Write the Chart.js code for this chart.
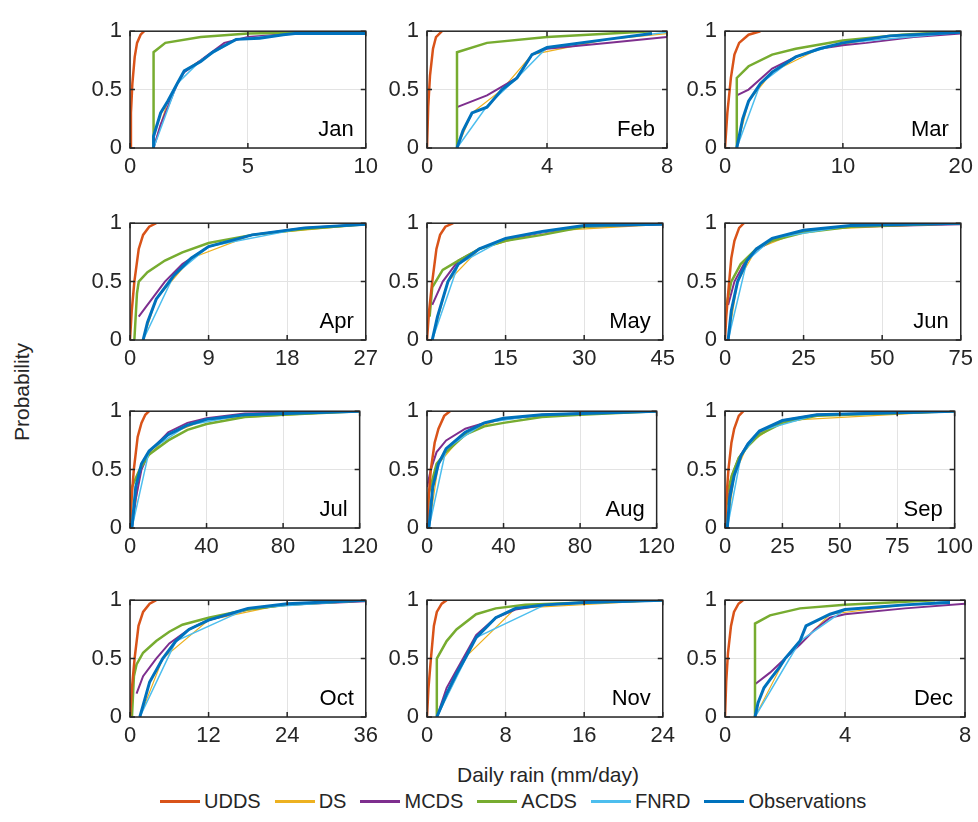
<!DOCTYPE html>
<html>
<head>
<meta charset="utf-8">
<script src="https://cdn.jsdelivr.net/npm/chart.js@4"></script>
<style>
body { margin: 0; background: #fff; font-family: "Liberation Sans", Arial, sans-serif; }
#wrap { position: relative; width: 978px; height: 822px; }
.pan { position: absolute; }
#ylab { position: absolute; left: 22px; top: 392px; transform: translate(-50%, -50%) rotate(-90deg); font-size: 21px; color: #262626; }
#xlab { position: absolute; left: 548px; top: 775px; transform: translate(-50%, -50%); font-size: 21px; color: #262626; }
#legend { position: absolute; left: 160px; top: 790px; font-size: 20px; color: #262626; display: flex; white-space: nowrap; }
#legend span { display: inline-flex; align-items: center; margin-right: 14px; }
#legend i { display: inline-block; width: 40px; height: 3px; margin-right: 4px; }
</style>
</head>
<body>
<div id="wrap">
  <div id="ylab">Probability</div>
  <div id="xlab">Daily rain (mm/day)</div>
  <div id="legend"></div>
</div>
<script>
const months = ['Jan', 'Feb', 'Mar', 'Apr', 'May', 'Jun', 'Jul', 'Aug', 'Sep', 'Oct', 'Nov', 'Dec'];
const xTicks = [
    [0, 5, 10], [0, 4, 8], [0, 10, 20],
    [0, 9, 18, 27], [0, 15, 30, 45], [0, 25, 50, 75],
    [0, 40, 80, 120], [0, 40, 80, 120], [0, 25, 50, 75, 100],
    [0, 12, 24, 36], [0, 8, 16, 24], [0, 4, 8]
];
const yTicks = [0, 0.5, 1];
const seriesNames = ['UDDS', 'DS', 'MCDS', 'ACDS', 'FNRD', 'Observations'];
const seriesColors = ['#D95319', '#EDB120', '#7E2F8E', '#77AC30', '#4DBEEE', '#0072BD'];

// [x, probability] pairs per month
const udds = [
    [[0,0],[0.04,0.3],[0.1,0.55],[0.2,0.78],[0.3,0.9],[0.45,0.97],[0.6,1]],
    [[0,0],[0.04,0.35],[0.1,0.62],[0.2,0.85],[0.3,0.95],[0.5,1]],
    [[0,0],[0.2,0.3],[0.5,0.6],[0.8,0.8],[1.2,0.9],[2,0.97],[3,1]],
    [[0,0],[0.2,0.25],[0.5,0.5],[1,0.78],[1.5,0.9],[2.2,0.97],[3,1]],
    [[0,0],[0.4,0.25],[1,0.5],[1.8,0.78],[2.5,0.9],[3.5,0.97],[5,1]],
    [[0,0],[0.4,0.2],[1,0.4],[2,0.7],[3,0.85],[4.5,0.96],[6,1]],
    [[0,0],[0.8,0.25],[2,0.5],[4,0.78],[6,0.9],[8,0.97],[10,1]],
    [[0,0],[0.8,0.25],[2,0.5],[4,0.73],[6,0.85],[9,0.96],[12,1]],
    [[0,0],[0.6,0.25],[1.5,0.5],[2.8,0.73],[4,0.85],[6,0.96],[8,1]],
    [[0,0],[0.3,0.25],[0.7,0.5],[1.3,0.78],[2,0.9],[3,0.97],[4,1]],
    [[0,0],[0.15,0.25],[0.4,0.5],[0.7,0.78],[1,0.9],[1.5,0.97],[2,1]],
    [[0,0],[0.04,0.3],[0.1,0.55],[0.2,0.78],[0.3,0.9],[0.45,0.97],[0.6,1]]
];
const ds = [
    [[1,0],[1.6,0.4],[2.3,0.66],[3.5,0.82],[4.5,0.93],[7,0.98],[10,0.99]],
    [[1,0],[1.5,0.3],[2.5,0.5],[3.5,0.8],[6,0.93],[8,0.98]],
    [[1,0],[2,0.4],[4,0.65],[8,0.85],[14,0.96],[20,0.99]],
    [[1.5,0],[3,0.35],[7,0.7],[14,0.9],[27,0.99]],
    [[1,0],[4,0.5],[10,0.78],[22,0.93],[45,0.99]],
    [[1,0],[4,0.5],[10,0.78],[25,0.94],[75,1]],
    [[1,0],[6,0.55],[20,0.8],[40,0.93],[120,1]],
    [[1,0],[6,0.55],[20,0.82],[40,0.94],[120,1]],
    [[1,0],[4,0.45],[10,0.72],[25,0.92],[100,1]],
    [[1.5,0],[5,0.5],[12,0.83],[24,0.97],[36,1]],
    [[1,0],[4,0.52],[9,0.93],[24,1]],
    [[1,0],[2,0.5],[3.5,0.88],[6,0.96],[7.5,0.99]]
];
const mcds = [
    [[1,0],[1.3,0.2],[2,0.55],[2.3,0.65],[3,0.75],[4,0.9],[5,0.95],[7,0.98],[10,0.99]],
    [[1,0.35],[2,0.45],[3,0.6],[3.5,0.8],[4,0.85],[6,0.9],[8,0.95]],
    [[1,0.45],[2,0.5],[4,0.68],[6,0.78],[8,0.85],[10,0.88],[12,0.9],[16,0.95],[20,0.98]],
    [[1,0.2],[2,0.3],[4,0.5],[6,0.65],[9,0.8],[14,0.9],[20,0.96],[27,0.99]],
    [[1,0.3],[3,0.5],[6,0.68],[10,0.78],[15,0.86],[22,0.92],[30,0.97],[45,0.99]],
    [[1,0.3],[3,0.5],[6,0.65],[10,0.77],[15,0.85],[25,0.94],[40,0.97],[75,0.99]],
    [[1,0],[3,0.25],[6,0.5],[10,0.65],[20,0.82],[30,0.9],[40,0.94],[60,0.98],[120,1]],
    [[0,0.35],[2,0.5],[5,0.65],[10,0.75],[20,0.85],[30,0.9],[40,0.93],[60,0.97],[120,1]],
    [[1,0.2],[3,0.45],[6,0.6],[10,0.72],[15,0.82],[25,0.92],[40,0.97],[100,1]],
    [[1,0.2],[2,0.35],[4,0.5],[6,0.63],[9,0.75],[12,0.83],[18,0.92],[24,0.96],[36,0.99]],
    [[1,0],[2,0.25],[3,0.4],[4,0.55],[5,0.7],[7,0.85],[9,0.92],[12,0.96],[16,0.98],[24,1]],
    [[1,0.28],[1.5,0.38],[2,0.5],[2.5,0.62],[3,0.75],[3.5,0.85],[4,0.88],[6,0.93],[8,0.97]]
];
const acds = [
    [[1,0],[1,0.82],[1.5,0.9],[3,0.95],[5,0.98],[10,1]],
    [[1,0],[1,0.82],[2,0.9],[4,0.95],[7.5,1]],
    [[1,0],[1,0.6],[2,0.7],[4,0.8],[6,0.85],[10,0.92],[15,0.97],[20,1]],
    [[0.5,0],[0.8,0.4],[1,0.5],[2,0.58],[4,0.68],[6,0.75],[9,0.83],[14,0.9],[20,0.95],[27,0.99]],
    [[0.5,0.2],[1,0.45],[3,0.6],[6,0.68],[10,0.78],[15,0.85],[22,0.9],[30,0.97],[45,1]],
    [[0.5,0.3],[2,0.5],[5,0.65],[10,0.78],[15,0.85],[25,0.92],[40,0.97],[75,1]],
    [[0,0],[1,0.35],[5,0.5],[10,0.63],[20,0.75],[30,0.84],[40,0.89],[60,0.95],[80,0.97],[120,1]],
    [[0,0],[1,0.3],[5,0.55],[10,0.65],[20,0.8],[30,0.87],[40,0.9],[60,0.95],[80,0.97],[120,1]],
    [[0,0],[1,0.3],[3,0.45],[6,0.6],[10,0.7],[15,0.8],[25,0.9],[40,0.96],[100,1]],
    [[0.3,0],[0.6,0.35],[1,0.45],[2,0.55],[4,0.65],[6,0.73],[8,0.79],[12,0.85],[18,0.92],[24,0.96],[36,1]],
    [[1,0],[1,0.5],[2,0.65],[3,0.75],[5,0.88],[7,0.93],[10,0.96],[16,0.98],[24,1]],
    [[1,0],[1,0.8],[1.5,0.87],[2.5,0.93],[4,0.96],[7,1]]
];
const fnrd = [
    [[1,0],[2,0.55],[3,0.75],[4.5,0.93],[7,0.98],[10,1]],
    [[1,0],[2,0.36],[3,0.6],[4,0.86],[6,0.93],[8,0.99]],
    [[1,0],[3,0.55],[6,0.78],[10,0.9],[20,0.99]],
    [[1.5,0],[5,0.55],[9,0.8],[20,0.96],[27,0.99]],
    [[1,0],[6,0.65],[15,0.87],[30,0.98],[45,0.99]],
    [[1,0],[7,0.68],[15,0.87],[40,0.98],[75,1]],
    [[1,0],[10,0.66],[30,0.88],[60,0.97],[120,1]],
    [[1,0],[10,0.68],[30,0.9],[60,0.97],[120,1]],
    [[1,0],[7,0.62],[15,0.83],[40,0.97],[100,1]],
    [[1.5,0],[7,0.65],[18,0.93],[36,1]],
    [[1,0],[5,0.68],[12,0.96],[24,1]],
    [[1,0],[2.5,0.65],[4,0.92],[7.5,0.99]]
];
const obs = [
    [[1,0],[1,0.1],[1.3,0.3],[1.6,0.4],[2,0.55],[2.3,0.66],[3,0.74],[3.5,0.82],[4.5,0.93],[5.5,0.94],[6.5,0.97],[7,0.98],[10,0.98]],
    [[1,0],[1.2,0.15],[1.5,0.3],[2,0.35],[2.5,0.5],[3,0.6],[3.5,0.8],[4,0.86],[6,0.93],[7.5,0.98]],
    [[1,0],[1.5,0.25],[2,0.4],[3,0.55],[4,0.65],[6,0.78],[8,0.85],[10,0.9],[14,0.96],[20,0.99]],
    [[1.5,0],[2,0.15],[3,0.35],[5,0.55],[7,0.7],[9,0.8],[14,0.9],[20,0.96],[27,0.99]],
    [[1,0],[2,0.2],[4,0.5],[6,0.65],[10,0.78],[15,0.87],[22,0.93],[30,0.98],[45,0.99]],
    [[1,0],[2,0.25],[4,0.5],[7,0.68],[10,0.78],[15,0.87],[25,0.94],[40,0.98],[75,1]],
    [[1,0],[3,0.35],[6,0.55],[10,0.66],[20,0.8],[30,0.88],[40,0.93],[60,0.97],[120,1]],
    [[1,0],[3,0.35],[6,0.55],[10,0.68],[20,0.82],[30,0.9],[40,0.94],[60,0.97],[120,1]],
    [[1,0],[2,0.25],[4,0.45],[7,0.62],[10,0.72],[15,0.83],[25,0.92],[40,0.97],[100,1]],
    [[1.5,0],[2,0.1],[3,0.3],[5,0.5],[7,0.65],[9,0.75],[12,0.83],[18,0.93],[24,0.97],[36,1]],
    [[1,0],[2,0.2],[3,0.37],[4,0.52],[5,0.68],[7,0.85],[9,0.93],[12,0.96],[16,0.98],[24,1]],
    [[1,0],[1.1,0.12],[1.3,0.25],[1.5,0.32],[1.8,0.42],[2,0.5],[2.5,0.65],[2.7,0.78],[3.5,0.88],[4,0.92],[6,0.96],[7.5,0.98]]
];
const allSeries = [udds, ds, mcds, acds, fnrd, obs];
const lineWidths = [2.5, 1.2, 2, 2.5, 1.5, 3];
const drawOrder = [3, 6, 5, 4, 2, 1];

const colLeft = [130, 427, 725];
const rowTop = [18, 210, 398, 587];
const plotW = 240, plotH = 130;
const padL = 50, padT = 8, padR = 14, padB = 40;
const tickFont = { family: '"Liberation Sans", Arial, sans-serif', size: 22 };

const boxPlugin = {
    id: 'box',
    afterDatasetsDraw(chart, args, opts) {
        const ctx = chart.ctx, a = chart.chartArea;
        ctx.save();
        ctx.strokeStyle = '#262626';
        ctx.lineWidth = 1.5;
        ctx.strokeRect(a.left, a.top, a.right - a.left, a.bottom - a.top);
        const xs = chart.scales.x, ys = chart.scales.y;
        ctx.beginPath();
        xs.ticks.forEach(t => {
            const px = xs.getPixelForValue(t.value);
            ctx.moveTo(px, a.bottom); ctx.lineTo(px, a.bottom - 5);
            ctx.moveTo(px, a.top); ctx.lineTo(px, a.top + 5);
        });
        ys.ticks.forEach(t => {
            const py = ys.getPixelForValue(t.value);
            ctx.moveTo(a.left, py); ctx.lineTo(a.left + 5, py);
            ctx.moveTo(a.right, py); ctx.lineTo(a.right - 5, py);
        });
        ctx.stroke();
        ctx.fillStyle = '#000';
        ctx.font = '22px "Liberation Sans", Arial, sans-serif';
        ctx.textAlign = 'right';
        ctx.textBaseline = 'alphabetic';
        ctx.fillText(opts.label, a.right - 12, a.bottom - 12);
        ctx.restore();
    }
};

const wrap = document.getElementById('wrap');
months.forEach((m, i) => {
    const r = Math.floor(i / 3), c = i % 3;
    const cv = document.createElement('canvas');
    cv.className = 'pan';
    const w = plotW + padL + padR, h = plotH + padT + padB;
    cv.width = w; cv.height = h;
    cv.style.left = (colLeft[c] - padL) + 'px';
    cv.style.top = (rowTop[r] - padT) + 'px';
    wrap.appendChild(cv);
    const ticks = xTicks[i];
    new Chart(cv, {
        type: 'line',
        data: {
            datasets: allSeries.map((s, k) => ({
                label: seriesNames[k],
                data: s[i].map(p => ({ x: p[0], y: p[1] })),
                borderColor: seriesColors[k],
                borderWidth: lineWidths[k],
                pointRadius: 0,
                fill: false,
                tension: 0,
                order: drawOrder[k]
            }))
        },
        options: {
            responsive: false,
            animation: false,
            devicePixelRatio: 1,
            layout: { padding: { top: padT, right: padR, left: 0, bottom: 0 } },
            plugins: { legend: { display: false }, tooltip: { enabled: false }, box: { label: m } },
            scales: {
                x: {
                    type: 'linear', min: 0, max: ticks[ticks.length - 1],
                    afterBuildTicks: s => { s.ticks = ticks.map(v => ({ value: v })); },
                    afterFit: s => { s.height = padB; },
                    grid: { color: '#e3e3e3', drawTicks: false },
                    border: { display: false },
                    ticks: { color: '#262626', font: tickFont, padding: 6, maxRotation: 0 }
                },
                y: {
                    type: 'linear', min: 0, max: 1,
                    afterBuildTicks: s => { s.ticks = yTicks.map(v => ({ value: v })); },
                    afterFit: s => { s.width = padL; },
                    grid: { color: '#e3e3e3', drawTicks: false },
                    border: { display: false },
                    ticks: { color: '#262626', font: tickFont, padding: 8, callback: v => String(v) }
                }
            }
        },
        plugins: [boxPlugin]
    });
});

const leg = document.getElementById('legend');
seriesNames.forEach((n, k) => {
    const s = document.createElement('span');
    s.innerHTML = '<i style="background:' + seriesColors[k] + '"></i>' + n;
    leg.appendChild(s);
});
</script>
</body>
</html>
